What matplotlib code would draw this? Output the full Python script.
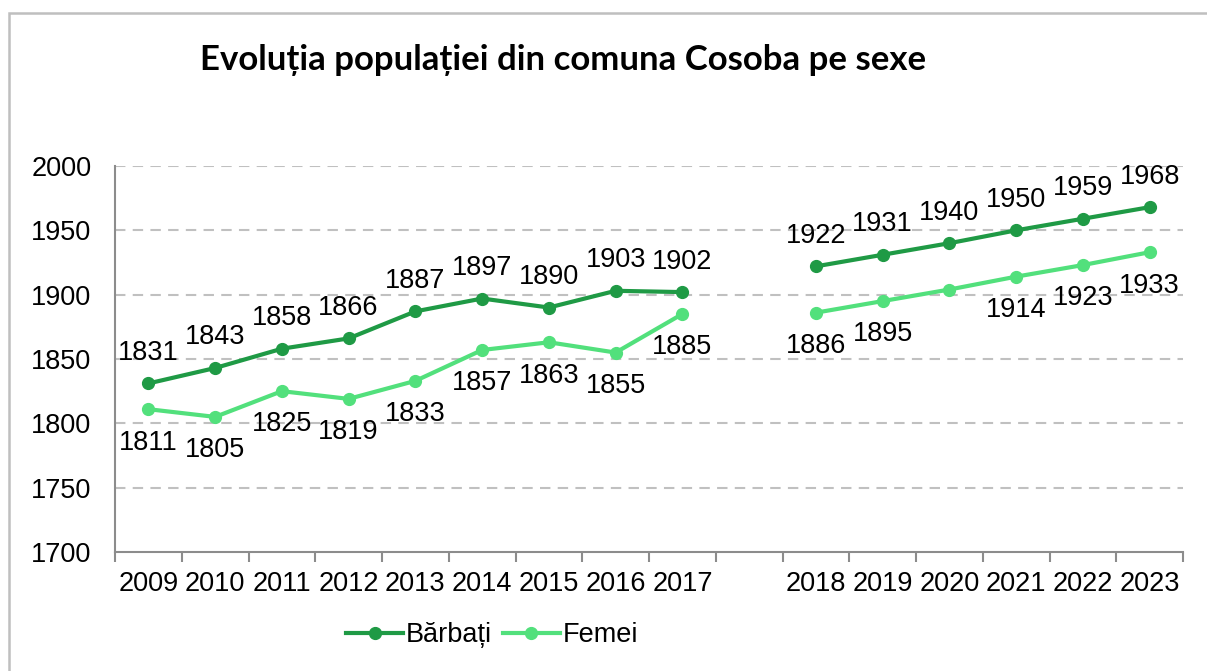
import numpy as np
import matplotlib
matplotlib.use("Agg")
import matplotlib.pyplot as plt
import matplotlib.patches as patches

years = ["2009", "2010", "2011", "2012", "2013", "2014", "2015", "2016", "2017", "",
         "2018", "2019", "2020", "2021", "2022", "2023"]
barbati = [1831, 1843, 1858, 1866, 1887, 1897, 1890, 1903, 1902, np.nan,
           1922, 1931, 1940, 1950, 1959, 1968]
femei = [1811, 1805, 1825, 1819, 1833, 1857, 1863, 1855, 1885, np.nan,
         1886, 1895, 1904, 1914, 1923, 1933]
# the 2020 Femei label is hidden in the original
femei_labels = [True] * 16
femei_labels[12] = False

c_dark = "#1f9a45"
c_light = "#52e07c"
font = "Liberation Sans"
fs = 19.5

fig = plt.figure(figsize=(12.07, 6.71), dpi=100)
ax = fig.add_axes([115 / 1207, 1 - 552 / 671, (1183 - 115) / 1207, (552 - 166) / 671])

x = np.arange(len(years))
ax.plot(x, barbati, color=c_dark, lw=3, marker="o", ms=8.5, label="Bărbați")
ax.plot(x, femei, color=c_light, lw=3, marker="o", ms=8.5, label="Femei")

for i, v in enumerate(barbati):
    if not np.isnan(v):
        ax.annotate(str(int(v)), (i, v), textcoords="offset points", xytext=(0, 22),
                    ha="center", va="center", fontsize=fs, family=font)
for i, v in enumerate(femei):
    if not np.isnan(v) and femei_labels[i]:
        ax.annotate(str(int(v)), (i, v), textcoords="offset points", xytext=(0, -24),
                    ha="center", va="center", fontsize=fs, family=font)

ax.set_xlim(-0.5, len(years) - 0.5)
ax.set_ylim(1700, 2000)
ax.set_yticks(np.arange(1700, 2001, 50))
ax.set_xticks(np.arange(-0.5, len(years), 1))
ax.set_xticklabels([])
ax.set_xticks(x, minor=True)
ax.set_xticklabels(years, minor=True)
ax.tick_params(axis="x", which="major", length=7, width=1.5, color="#8c8c8c")
ax.tick_params(axis="x", which="minor", length=0, pad=14, labelsize=fs)
ax.tick_params(axis="y", length=0, pad=17, labelsize=fs)
for lab in ax.get_xticklabels(minor=True) + ax.get_yticklabels():
    lab.set_family(font)

for yv in range(1750, 2001, 50):
    ax.axhline(yv, color="#c0c0c0", lw=1.5, ls=(0, (5, 3.5)), zorder=0)

for s in ["top", "right"]:
    ax.spines[s].set_visible(False)
for s in ["left", "bottom"]:
    ax.spines[s].set_color("#8c8c8c")
    ax.spines[s].set_linewidth(1.5)

fig.text(563 / 1207, 1 - 60 / 671, "Evoluția populației din comuna Cosoba pe sexe",
         ha="center", va="center", fontsize=25, fontweight="bold", family="Lato")

leg = fig.legend(loc="center", bbox_to_anchor=(492 / 1207, 1 - 635 / 671), ncol=2,
                 frameon=False, prop={"family": font, "size": fs},
                 handlelength=2.1, handletextpad=0.1, columnspacing=0.4)

fig.patches.append(patches.Rectangle((8.5 / 1207, -0.1), 1.2, 0.1 + 1 - 12.5 / 671,
                                     transform=fig.transFigure, fill=False,
                                     edgecolor="#bfbfbf", lw=1.8))

fig.savefig("out.png", dpi=100)
